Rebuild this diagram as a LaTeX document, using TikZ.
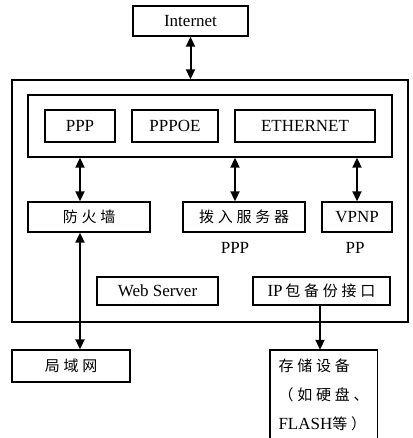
\documentclass[tikz,border=0pt]{standalone}
\usepackage{fontspec}
\setmainfont{Liberation Serif}
\newfontfamily\cjk[LetterSpace=25]{Noto Sans CJK SC}
\usetikzlibrary{arrows.meta}
\begin{document}
\begin{tikzpicture}[x=1pt,y=-1pt,
  box/.style={draw,line width=1.4pt,minimum width=#1,inner sep=0pt,font=\fontsize{17}{19}\selectfont},
  lbl/.style={inner sep=0pt,font=\fontsize{17}{19}\selectfont},
  conn/.style={line width=2pt,{Triangle[length=10pt,width=9pt]}-{Triangle[length=10pt,width=9pt]}},
  oneway/.style={line width=2pt,-{Triangle[length=10pt,width=9pt]}}]
\useasboundingbox (0,0) rectangle (412,438);
\node[box=115pt,minimum height=30pt] (inet) at (190.5,21) {Internet};
\node[box=396pt,minimum height=242pt] (outer) at (210,201) {};
\node[box=364pt,minimum height=62pt] (inner) at (210,126) {};
\node[box=70pt,minimum height=32pt] (ppp) at (80,126) {PPP};
\node[box=86pt,minimum height=32pt] (pppoe) at (175,126) {PPPOE};
\node[box=140pt,minimum height=32pt] (eth) at (305,126) {ETHERNET};
\node[box=122pt,minimum height=30pt] (fw) at (89,217) {\fontsize{15}{17}\cjk 防火墙};
\node[box=122pt,minimum height=30pt] (dial) at (244,217) {\fontsize{15}{17}\cjk 拨入服务器};
\node[box=70pt,minimum height=30pt] (vpnp) at (357,217) {VPNP};
\node[lbl] (l1) at (235,248) {PPP};
\node[lbl] (l2) at (355,248) {PP};
\node[box=121pt,minimum height=28pt] (web) at (157.5,291) {Web Server};
\node[box=137pt,minimum height=28pt] (ip) at (321.5,291) {IP\,{\fontsize{15}{17}\cjk 包备份接口}};
\node[box=118pt,minimum height=32pt] (lan) at (71,366) {\fontsize{15}{17}\cjk 局域网};
\node[lbl,minimum width=107pt,minimum height=90pt,align=left] (st) at (323.5,395)
  {{\fontsize{15}{17}\cjk 存储设备}\\[10pt]{\fontsize{15}{17}\cjk （如硬盘、}\\[10pt]FLASH{\fontsize{15}{17}\cjk 等）}};
\draw[line width=1.4pt] (st.south west) -- (st.north west) -- (st.north east) -- (st.south east);
\draw[conn] (inet.south) -- (inet.south |- outer.north);
\draw[conn] (ppp.south |- inner.south) -- (ppp.south |- fw.north);
\draw[conn] ([xshift=-9pt]dial.north |- inner.south) -- ([xshift=-9pt]dial.north);
\draw[conn] (vpnp.north |- inner.south) -- (vpnp.north);
\draw[conn] ([xshift=-9pt]fw.south) -- ([xshift=-9pt]fw.south |- lan.north);
\draw[oneway] ([xshift=-1.5pt]ip.south) -- ([xshift=-1.5pt]ip.south |- st.north);
\end{tikzpicture}
\end{document}
